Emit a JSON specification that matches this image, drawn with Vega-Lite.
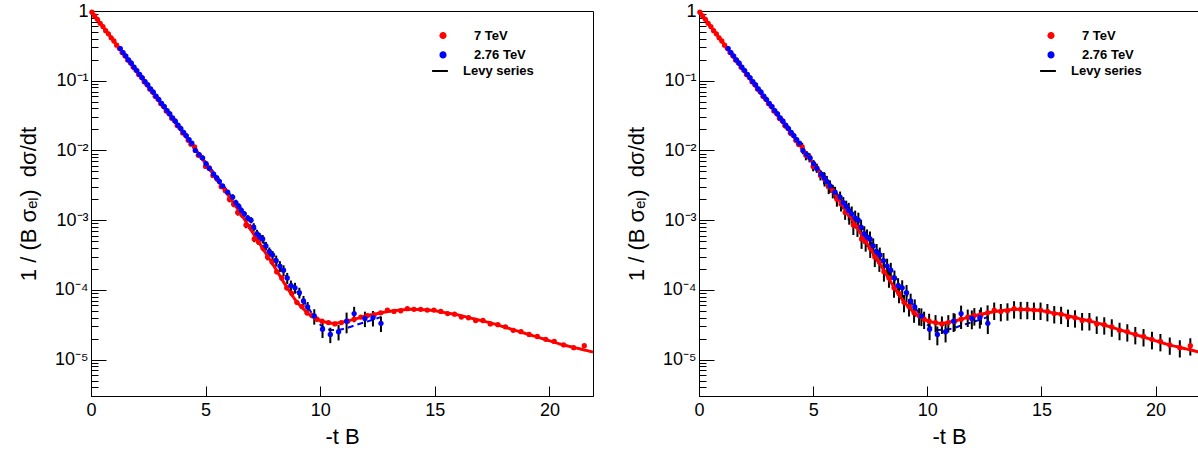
{
"$schema": "https://vega.github.io/schema/vega-lite/v6.json",
"padding": {"left": 16, "top": 1, "right": 0, "bottom": 0},
"spacing": 106,
"bounds": "flush",
"config": {
  "font": "Liberation Sans",
  "view": {"stroke": "#000000", "strokeWidth": 1},
  "axis": {"domainColor": "#000000", "tickColor": "#000000", "labelColor": "#000000", "titleColor": "#000000", "grid": false, "domainWidth": 1, "tickWidth": 1},
  "legend": {"title": null, "orient": "none", "labelFontSize": 13, "labelFontWeight": "bold", "padding": 0, "labelColor": "#000000", "labelAlign": "left", "symbolSize": 250}
},
"resolve": {"scale": {"color": "independent", "strokeDash": "independent"}},
"datasets": {
"red": [
{"t":0.04,"y":0.96,"e1":0.019,"e2":0.019},
{"t":0.16,"y":0.85,"e1":0.017,"e2":0.017},
{"t":0.28,"y":0.76,"e1":0.015,"e2":0.015},
{"t":0.40,"y":0.665,"e1":0.013,"e2":0.013},
{"t":0.52,"y":0.597,"e1":0.012,"e2":0.012},
{"t":0.64,"y":0.522,"e1":0.010,"e2":0.010},
{"t":0.76,"y":0.47,"e1":0.009,"e2":0.009},
{"t":0.88,"y":0.412,"e1":0.008,"e2":0.008},
{"t":1.00,"y":0.371,"e1":0.007,"e2":0.007},
{"t":1.12,"y":0.323,"e1":0.006,"e2":0.006},
{"t":1.24,"y":0.291,"e1":0.006,"e2":0.006},
{"t":1.36,"y":0.254,"e1":0.005,"e2":0.005},
{"t":1.48,"y":0.229,"e1":0.005,"e2":0.005},
{"t":1.60,"y":0.199,"e1":0.004,"e2":0.004},
{"t":1.72,"y":0.181,"e1":0.004,"e2":0.004},
{"t":1.84,"y":0.157,"e1":0.003,"e2":0.003},
{"t":1.96,"y":0.142,"e1":0.003,"e2":0.003},
{"t":2.08,"y":0.123,"e1":0.0025,"e2":0.006},
{"t":2.20,"y":0.112,"e1":0.0022,"e2":0.0056},
{"t":2.32,"y":0.0968,"e1":0.0019,"e2":0.0048},
{"t":2.44,"y":0.0885,"e1":0.0018,"e2":0.0044},
{"t":2.56,"y":0.0760,"e1":0.0015,"e2":0.0038},
{"t":2.68,"y":0.0695,"e1":0.0014,"e2":0.0035},
{"t":2.80,"y":0.0597,"e1":0.0012,"e2":0.0030},
{"t":2.92,"y":0.0548,"e1":0.0011,"e2":0.0027},
{"t":3.04,"y":0.0470,"e1":0.0009,"e2":0.0024},
{"t":3.16,"y":0.0431,"e1":0.0009,"e2":0.0022},
{"t":3.28,"y":0.0368,"e1":0.0007,"e2":0.0018},
{"t":3.40,"y":0.0339,"e1":0.0007,"e2":0.0017},
{"t":3.52,"y":0.0290,"e1":0.0006,"e2":0.0026},
{"t":3.64,"y":0.0268,"e1":0.0005,"e2":0.0024},
{"t":3.76,"y":0.0227,"e1":0.0005,"e2":0.0020},
{"t":3.88,"y":0.0211,"e1":0.0004,"e2":0.0019},
{"t":4.00,"y":0.0178,"e1":0.0004,"e2":0.0016},
{"t":4.12,"y":0.0166,"e1":0.0003,"e2":0.0015},
{"t":4.24,"y":0.0140,"e1":0.0003,"e2":0.0013},
{"t":4.36,"y":0.0123,"e1":0.0002,"e2":0.0011},
{"t":4.52,"y":0.0112,"e1":0.0002,"e2":0.0017},
{"t":4.68,"y":0.00851,"e1":0.00017,"e2":0.0013},
{"t":4.84,"y":0.00794,"e1":0.00016,"e2":0.0012},
{"t":5.00,"y":0.00589,"e1":0.00012,"e2":0.00088},
{"t":5.16,"y":0.00562,"e1":0.00011,"e2":0.00084},
{"t":5.32,"y":0.00437,"e1":0.00009,"e2":0.00066},
{"t":5.50,"y":0.00389,"e1":0.00008,"e2":0.00086},
{"t":5.68,"y":0.00302,"e1":0.00006,"e2":0.00066},
{"t":5.86,"y":0.00263,"e1":0.00005,"e2":0.00058},
{"t":6.04,"y":0.00200,"e1":0.0002,"e2":0.00044},
{"t":6.22,"y":0.00170,"e1":0.00017,"e2":0.00037},
{"t":6.40,"y":0.00129,"e1":0.00013,"e2":0.00028},
{"t":6.58,"y":0.00120,"e1":0.00012,"e2":0.00034},
{"t":6.76,"y":0.000851,"e1":0.000085,"e2":0.00024},
{"t":6.94,"y":0.000794,"e1":0.000079,"e2":0.00022},
{"t":7.12,"y":0.000537,"e1":0.000054,"e2":0.00015},
{"t":7.30,"y":0.000490,"e1":0.000049,"e2":0.000137},
{"t":7.50,"y":0.000398,"e1":0.00004,"e2":0.000111},
{"t":7.70,"y":0.000295,"e1":0.00003,"e2":0.000083},
{"t":7.90,"y":0.000251,"e1":0.000025,"e2":0.00007},
{"t":8.10,"y":0.000182,"e1":0.000015,"e2":0.000051},
{"t":8.32,"y":0.000148,"e1":0.000012,"e2":0.000041},
{"t":8.54,"y":0.000107,"e1":8.6e-6,"e2":0.00003},
{"t":8.76,"y":8.91e-5,"e1":7.1e-6,"e2":2.5e-5},
{"t":8.98,"y":6.61e-5,"e1":5.3e-6,"e2":1.85e-5},
{"t":9.20,"y":5.75e-5,"e1":4.6e-6,"e2":1.61e-5},
{"t":9.42,"y":4.68e-5,"e1":3.7e-6,"e2":1.31e-5},
{"t":9.64,"y":4.27e-5,"e1":3.4e-6,"e2":1.2e-5},
{"t":9.86,"y":3.80e-5,"e1":3.0e-6,"e2":1.06e-5},
{"t":10.08,"y":3.55e-5,"e1":1.8e-6,"e2":9.9e-6},
{"t":10.36,"y":3.39e-5,"e1":1.7e-6,"e2":9.5e-6},
{"t":10.64,"y":3.24e-5,"e1":1.6e-6,"e2":9.1e-6},
{"t":10.92,"y":3.39e-5,"e1":1.7e-6,"e2":9.5e-6},
{"t":11.20,"y":3.55e-5,"e1":1.8e-6,"e2":9.9e-6},
{"t":11.48,"y":3.80e-5,"e1":1.9e-6,"e2":1.06e-5},
{"t":11.77,"y":4.07e-5,"e1":2.0e-6,"e2":1.14e-5},
{"t":12.06,"y":4.27e-5,"e1":2.1e-6,"e2":1.2e-5},
{"t":12.35,"y":4.37e-5,"e1":2.2e-6,"e2":1.22e-5},
{"t":12.64,"y":4.68e-5,"e1":2.3e-6,"e2":1.31e-5},
{"t":12.93,"y":5.13e-5,"e1":2.6e-6,"e2":1.44e-5},
{"t":13.22,"y":4.90e-5,"e1":2.5e-6,"e2":1.37e-5},
{"t":13.51,"y":5.01e-5,"e1":2.5e-6,"e2":1.4e-5},
{"t":13.80,"y":5.37e-5,"e1":2.7e-6,"e2":1.5e-5},
{"t":14.09,"y":5.25e-5,"e1":2.6e-6,"e2":1.47e-5},
{"t":14.38,"y":5.25e-5,"e1":2.6e-6,"e2":1.47e-5},
{"t":14.67,"y":5.13e-5,"e1":2.6e-6,"e2":1.44e-5},
{"t":14.96,"y":5.13e-5,"e1":2.6e-6,"e2":1.44e-5},
{"t":15.26,"y":4.90e-5,"e1":2.5e-6,"e2":1.37e-5},
{"t":15.56,"y":4.57e-5,"e1":2.3e-6,"e2":1.28e-5},
{"t":15.86,"y":4.47e-5,"e1":2.2e-6,"e2":1.25e-5},
{"t":16.16,"y":4.07e-5,"e1":2.0e-6,"e2":1.14e-5},
{"t":16.47,"y":3.98e-5,"e1":2.0e-6,"e2":1.11e-5},
{"t":16.78,"y":3.63e-5,"e1":1.8e-6,"e2":1.02e-5},
{"t":17.10,"y":3.63e-5,"e1":1.8e-6,"e2":1.02e-5},
{"t":17.42,"y":3.24e-5,"e1":1.6e-6,"e2":9.1e-6},
{"t":17.75,"y":3.16e-5,"e1":1.6e-6,"e2":8.8e-6},
{"t":18.08,"y":2.95e-5,"e1":1.5e-6,"e2":8.3e-6},
{"t":18.42,"y":2.63e-5,"e1":1.3e-6,"e2":7.4e-6},
{"t":18.76,"y":2.51e-5,"e1":1.3e-6,"e2":7.0e-6},
{"t":19.11,"y":2.29e-5,"e1":1.1e-6,"e2":6.4e-6},
{"t":19.47,"y":2.14e-5,"e1":1.1e-6,"e2":6.0e-6},
{"t":19.84,"y":1.95e-5,"e1":1.0e-6,"e2":5.5e-6},
{"t":20.21,"y":1.82e-5,"e1":9e-7,"e2":5.1e-6},
{"t":20.62,"y":1.62e-5,"e1":8e-7,"e2":4.5e-6},
{"t":21.06,"y":1.48e-5,"e1":7e-7,"e2":4.1e-6},
{"t":21.52,"y":1.58e-5,"e1":8e-7,"e2":4.4e-6}
],
"blue": [
{"t":1.28,"y":0.289,"e1":0.006,"e2":0.009},
{"t":1.40,"y":0.253,"e1":0.005,"e2":0.008},
{"t":1.52,"y":0.226,"e1":0.0045,"e2":0.007},
{"t":1.64,"y":0.199,"e1":0.004,"e2":0.006},
{"t":1.76,"y":0.178,"e1":0.0036,"e2":0.0053},
{"t":1.88,"y":0.156,"e1":0.0031,"e2":0.0047},
{"t":2.00,"y":0.140,"e1":0.0028,"e2":0.0042},
{"t":2.12,"y":0.123,"e1":0.0025,"e2":0.0037},
{"t":2.24,"y":0.110,"e1":0.0022,"e2":0.0033},
{"t":2.36,"y":0.0970,"e1":0.0019,"e2":0.0029},
{"t":2.48,"y":0.0868,"e1":0.0017,"e2":0.0026},
{"t":2.60,"y":0.0762,"e1":0.0015,"e2":0.0023},
{"t":2.72,"y":0.0683,"e1":0.0014,"e2":0.0020},
{"t":2.84,"y":0.0600,"e1":0.0012,"e2":0.0018},
{"t":2.96,"y":0.0537,"e1":0.0011,"e2":0.0016},
{"t":3.08,"y":0.0472,"e1":0.0009,"e2":0.0028},
{"t":3.20,"y":0.0423,"e1":0.0008,"e2":0.0025},
{"t":3.32,"y":0.0372,"e1":0.0007,"e2":0.0022},
{"t":3.44,"y":0.0333,"e1":0.0007,"e2":0.0020},
{"t":3.56,"y":0.0292,"e1":0.0006,"e2":0.0018},
{"t":3.68,"y":0.0262,"e1":0.0005,"e2":0.0016},
{"t":3.80,"y":0.0230,"e1":0.0005,"e2":0.0014},
{"t":3.92,"y":0.0206,"e1":0.0004,"e2":0.0012},
{"t":4.04,"y":0.0181,"e1":0.0004,"e2":0.0011},
{"t":4.16,"y":0.0162,"e1":0.0003,"e2":0.0010},
{"t":4.28,"y":0.0143,"e1":0.0003,"e2":0.0009},
{"t":4.40,"y":0.0127,"e1":0.0003,"e2":0.0008},
{"t":4.55,"y":0.0100,"e1":0.0005,"e2":0.0012},
{"t":4.72,"y":0.00871,"e1":0.00044,"e2":0.00105},
{"t":4.87,"y":0.00776,"e1":0.00039,"e2":0.00093},
{"t":5.02,"y":0.00646,"e1":0.00032,"e2":0.00078},
{"t":5.16,"y":0.00550,"e1":0.00028,"e2":0.00066},
{"t":5.35,"y":0.00457,"e1":0.00023,"e2":0.00055},
{"t":5.48,"y":0.00407,"e1":0.0002,"e2":0.00081},
{"t":5.60,"y":0.00359,"e1":0.00018,"e2":0.00072},
{"t":5.74,"y":0.00309,"e1":0.00015,"e2":0.00062},
{"t":5.96,"y":0.00251,"e1":0.00013,"e2":0.0005},
{"t":6.18,"y":0.00214,"e1":0.00021,"e2":0.00043},
{"t":6.32,"y":0.00178,"e1":0.00018,"e2":0.00036},
{"t":6.45,"y":0.00158,"e1":0.00016,"e2":0.00032},
{"t":6.56,"y":0.00138,"e1":0.00014,"e2":0.00039},
{"t":6.69,"y":0.00123,"e1":0.00012,"e2":0.00034},
{"t":6.84,"y":0.00107,"e1":0.00011,"e2":0.0003},
{"t":6.98,"y":0.00100,"e1":0.0001,"e2":0.00028},
{"t":7.10,"y":0.000794,"e1":0.00011,"e2":0.00022},
{"t":7.24,"y":0.000638,"e1":0.000089,"e2":0.00018},
{"t":7.36,"y":0.000575,"e1":0.00008,"e2":0.00016},
{"t":7.49,"y":0.000537,"e1":0.000075,"e2":0.00015},
{"t":7.63,"y":0.000427,"e1":0.00006,"e2":0.00012},
{"t":7.78,"y":0.000355,"e1":0.00005,"e2":0.0001},
{"t":7.92,"y":0.000316,"e1":0.000044,"e2":0.000088},
{"t":8.08,"y":0.000263,"e1":0.000047,"e2":0.000074},
{"t":8.24,"y":0.000219,"e1":0.000039,"e2":0.000061},
{"t":8.40,"y":0.000191,"e1":0.000034,"e2":0.000053},
{"t":8.56,"y":0.000148,"e1":0.000027,"e2":0.000041},
{"t":8.72,"y":0.000115,"e1":0.000021,"e2":0.000032},
{"t":8.90,"y":0.000107,"e1":0.000019,"e2":0.00003},
{"t":9.09,"y":9.12e-5,"e1":1.6e-5,"e2":2.6e-5},
{"t":9.27,"y":6.92e-5,"e1":1.25e-5,"e2":1.9e-5},
{"t":9.45,"y":5.69e-5,"e1":1.0e-5,"e2":1.6e-5},
{"t":9.74,"y":4.22e-5,"e1":1.05e-5,"e2":1.2e-5},
{"t":10.10,"y":2.72e-5,"e1":6.8e-6,"e2":8.2e-6},
{"t":10.44,"y":2.29e-5,"e1":5.7e-6,"e2":6.9e-6},
{"t":10.80,"y":2.51e-5,"e1":6.3e-6,"e2":7.5e-6},
{"t":11.15,"y":3.55e-5,"e1":1.17e-5,"e2":1.07e-5},
{"t":11.48,"y":4.57e-5,"e1":1.14e-5,"e2":1.37e-5},
{"t":11.95,"y":3.89e-5,"e1":9.7e-6,"e2":1.17e-5},
{"t":12.30,"y":3.98e-5,"e1":1.0e-5,"e2":1.2e-5},
{"t":12.65,"y":3.31e-5,"e1":8.3e-6,"e2":9.9e-6}
],
"levy": [
{"t":0,"y":1},{"t":0.5,"y":0.607},{"t":1,"y":0.368},{"t":1.5,"y":0.223},{"t":2,"y":0.135},{"t":2.5,"y":0.0821},
{"t":3,"y":0.0498},{"t":3.5,"y":0.0302},{"t":4,"y":0.0183},{"t":4.5,"y":0.0111},{"t":5,"y":0.00646},{"t":5.5,"y":0.0038},
{"t":6,"y":0.00224},{"t":6.5,"y":0.00129},{"t":7,"y":0.000708},{"t":7.5,"y":0.000389},{"t":8,"y":0.000214},{"t":8.5,"y":0.000115},
{"t":9,"y":6.61e-5},{"t":9.25,"y":5.4e-5},{"t":9.5,"y":4.47e-5},{"t":9.75,"y":3.98e-5},{"t":10,"y":3.63e-5},{"t":10.25,"y":3.43e-5},
{"t":10.5,"y":3.31e-5},{"t":10.75,"y":3.35e-5},{"t":11,"y":3.47e-5},{"t":11.5,"y":3.80e-5},{"t":12,"y":4.22e-5},{"t":12.5,"y":4.57e-5},
{"t":13,"y":4.90e-5},{"t":13.5,"y":5.13e-5},{"t":14,"y":5.25e-5},{"t":14.5,"y":5.19e-5},{"t":15,"y":5.01e-5},{"t":15.5,"y":4.68e-5},
{"t":16,"y":4.37e-5},{"t":16.5,"y":3.98e-5},{"t":17,"y":3.63e-5},{"t":17.5,"y":3.31e-5},{"t":18,"y":2.95e-5},{"t":18.5,"y":2.63e-5},
{"t":19,"y":2.34e-5},{"t":19.5,"y":2.09e-5},{"t":20,"y":1.86e-5},{"t":20.5,"y":1.66e-5},{"t":21,"y":1.51e-5},{"t":21.5,"y":1.38e-5},{"t":21.9,"y":1.28e-5}
],
"bfit": [
{"t":1.28,"y":0.286},{"t":2,"y":0.139},{"t":3,"y":0.0519},{"t":4,"y":0.0191},{"t":4.5,"y":0.0115},{"t":5,"y":0.00692},
{"t":5.5,"y":0.00417},{"t":6,"y":0.00251},{"t":6.5,"y":0.00148},{"t":7,"y":0.000912},{"t":7.5,"y":0.000501},{"t":8,"y":0.000275},
{"t":8.5,"y":0.000158},{"t":9,"y":9.33e-5},{"t":9.5,"y":5.37e-5},{"t":10,"y":3.16e-5},{"t":10.5,"y":2.66e-5},{"t":11,"y":2.75e-5},
{"t":11.5,"y":3.09e-5},{"t":12,"y":3.47e-5},{"t":12.65,"y":4.07e-5}
]
},
"hconcat": [
{
 "width": 502, "height": 385,
 "layer": [
  {"data": {"name": "bfit"},
   "mark": {"type": "line", "color": "#0000ff", "strokeWidth": 2, "strokeDash": [6, 4], "interpolate": "monotone"},
   "encoding": {
     "x": {"field": "t", "type": "quantitative", "title": "-t B", "scale": {"domain": [0, 21.9], "nice": false, "zero": false},
       "axis": {"values": [0, 5, 10, 15, 20], "tickSize": -10, "labelPadding": 15, "labelFlush": false, "labelFontSize": 18, "titleFontSize": 22, "titleFontWeight": "normal", "titlePadding": 7}},
     "y": {"field": "y", "type": "quantitative", "title": "1 / (B σₑₗ) \u00a0dσ/dt", "scale": {"type": "log", "domain": [3e-6, 1], "nice": false},
       "axis": {"values": [3e-6,4e-6,5e-6,6e-6,7e-6,8e-6,9e-6,1e-5,2e-5,3e-5,4e-5,5e-5,6e-5,7e-5,8e-5,9e-5,1e-4,2e-4,3e-4,4e-4,5e-4,6e-4,7e-4,8e-4,9e-4,0.001,0.002,0.003,0.004,0.005,0.006,0.007,0.008,0.009,0.01,0.02,0.03,0.04,0.05,0.06,0.07,0.08,0.09,0.1,0.2,0.3,0.4,0.5,0.6,0.7,0.8,0.9,1],
         "tickSize": {"condition": {"test": "abs(log(datum.value)/LN10 - round(log(datum.value)/LN10)) < 0.01", "value": -15}, "value": -7},
         "labelPadding": 18, "labelOverlap": false, "labelFontSize": 18, "titleFontSize": 22, "titleFontWeight": "normal", "titlePadding": 14,
         "labelExpr": "abs(log(datum.value)/LN10 - round(log(datum.value)/LN10)) > 0.01 ? '' : (round(log(datum.value)/LN10) == 0 ? '1' : '10' + ['', '⁻¹', '⁻²', '⁻³', '⁻⁴', '⁻⁵', '⁻⁶'][-round(log(datum.value)/LN10)])"}}
   }},
  {"data": {"name": "red"},
   "mark": {"type": "errorbar", "ticks": false, "thickness": 2, "color": "#000000"},
   "encoding": {"x": {"field": "t", "type": "quantitative", "title": "-t B"}, "y": {"field": "y", "type": "quantitative", "title": "1 / (B σₑₗ) \u00a0dσ/dt"}, "yError": {"field": "e1"}}},
  {"data": {"name": "blue"},
   "mark": {"type": "errorbar", "ticks": false, "thickness": 2, "color": "#000000"},
   "encoding": {"x": {"field": "t", "type": "quantitative", "title": "-t B"}, "y": {"field": "y", "type": "quantitative", "title": "1 / (B σₑₗ) \u00a0dσ/dt"}, "yError": {"field": "e1"}}},
  {"data": {"name": "levy"},
   "mark": {"type": "line", "color": "#ff0000", "strokeWidth": 3, "interpolate": "monotone"},
   "encoding": {"x": {"field": "t", "type": "quantitative", "title": "-t B"}, "y": {"field": "y", "type": "quantitative", "title": "1 / (B σₑₗ) \u00a0dσ/dt"},
     "strokeDash": {"datum": "Levy series", "type": "nominal", "scale": {"domain": ["Levy series"], "range": [[1, 0]]},
       "legend": {"legendX": 340, "legendY": 51, "labelOffset": 14, "symbolType": "stroke", "symbolStrokeColor": "#000000", "symbolStrokeWidth": 2}}}},
  {"data": {"name": "red"},
   "mark": {"type": "circle", "size": 28, "opacity": 1},
   "encoding": {"x": {"field": "t", "type": "quantitative", "title": "-t B"}, "y": {"field": "y", "type": "quantitative", "title": "1 / (B σₑₗ) \u00a0dσ/dt"},
     "color": {"datum": "7 TeV", "type": "nominal", "scale": {"domain": ["7 TeV", "2.76 TeV"], "range": ["#ff0000", "#0000ff"]},
       "legend": {"legendX": 344, "legendY": 16.5, "labelOffset": 23, "symbolType": "M0.45,0A0.45,0.45,0,1,1,-0.45,0A0.45,0.45,0,1,1,0.45,0Z", "symbolStrokeWidth": 0, "symbolOpacity": 1, "rowPadding": 4.4}}}},
  {"data": {"name": "blue"},
   "mark": {"type": "circle", "size": 28, "opacity": 1},
   "encoding": {"x": {"field": "t", "type": "quantitative", "title": "-t B"}, "y": {"field": "y", "type": "quantitative", "title": "1 / (B σₑₗ) \u00a0dσ/dt"},
     "color": {"datum": "2.76 TeV", "type": "nominal", "scale": {"domain": ["7 TeV", "2.76 TeV"], "range": ["#ff0000", "#0000ff"]},
       "legend": {"legendX": 344, "legendY": 16.5, "labelOffset": 23, "symbolType": "M0.45,0A0.45,0.45,0,1,1,-0.45,0A0.45,0.45,0,1,1,0.45,0Z", "symbolStrokeWidth": 0, "symbolOpacity": 1, "rowPadding": 4.4}}}}
 ]
},
{
 "width": 500, "height": 385,
 "layer": [
  {"data": {"name": "bfit"},
   "mark": {"type": "line", "color": "#0000ff", "strokeWidth": 2, "strokeDash": [6, 4], "interpolate": "monotone"},
   "encoding": {
     "x": {"field": "t", "type": "quantitative", "title": "-t B", "scale": {"domain": [0, 21.9], "nice": false, "zero": false},
       "axis": {"values": [0, 5, 10, 15, 20], "tickSize": -10, "labelPadding": 15, "labelFlush": false, "labelFontSize": 18, "titleFontSize": 22, "titleFontWeight": "normal", "titlePadding": 7}},
     "y": {"field": "y", "type": "quantitative", "title": "1 / (B σₑₗ) \u00a0dσ/dt", "scale": {"type": "log", "domain": [3e-6, 1], "nice": false},
       "axis": {"values": [3e-6,4e-6,5e-6,6e-6,7e-6,8e-6,9e-6,1e-5,2e-5,3e-5,4e-5,5e-5,6e-5,7e-5,8e-5,9e-5,1e-4,2e-4,3e-4,4e-4,5e-4,6e-4,7e-4,8e-4,9e-4,0.001,0.002,0.003,0.004,0.005,0.006,0.007,0.008,0.009,0.01,0.02,0.03,0.04,0.05,0.06,0.07,0.08,0.09,0.1,0.2,0.3,0.4,0.5,0.6,0.7,0.8,0.9,1],
         "tickSize": {"condition": {"test": "abs(log(datum.value)/LN10 - round(log(datum.value)/LN10)) < 0.01", "value": -15}, "value": -7},
         "labelPadding": 18, "labelOverlap": false, "labelFontSize": 18, "titleFontSize": 22, "titleFontWeight": "normal", "titlePadding": 14,
         "labelExpr": "abs(log(datum.value)/LN10 - round(log(datum.value)/LN10)) > 0.01 ? '' : (round(log(datum.value)/LN10) == 0 ? '1' : '10' + ['', '⁻¹', '⁻²', '⁻³', '⁻⁴', '⁻⁵', '⁻⁶'][-round(log(datum.value)/LN10)])"}}
   }},
  {"data": {"name": "red"},
   "mark": {"type": "errorbar", "ticks": false, "thickness": 2, "color": "#000000"},
   "encoding": {"x": {"field": "t", "type": "quantitative", "title": "-t B"}, "y": {"field": "y", "type": "quantitative", "title": "1 / (B σₑₗ) \u00a0dσ/dt"}, "yError": {"field": "e2"}}},
  {"data": {"name": "blue"},
   "mark": {"type": "errorbar", "ticks": false, "thickness": 2, "color": "#000000"},
   "encoding": {"x": {"field": "t", "type": "quantitative", "title": "-t B"}, "y": {"field": "y", "type": "quantitative", "title": "1 / (B σₑₗ) \u00a0dσ/dt"}, "yError": {"field": "e2"}}},
  {"data": {"name": "levy"},
   "mark": {"type": "line", "color": "#ff0000", "strokeWidth": 3, "interpolate": "monotone"},
   "encoding": {"x": {"field": "t", "type": "quantitative", "title": "-t B"}, "y": {"field": "y", "type": "quantitative", "title": "1 / (B σₑₗ) \u00a0dσ/dt"},
     "strokeDash": {"datum": "Levy series", "type": "nominal", "scale": {"domain": ["Levy series"], "range": [[1, 0]]},
       "legend": {"legendX": 340, "legendY": 51, "labelOffset": 14, "symbolType": "stroke", "symbolStrokeColor": "#000000", "symbolStrokeWidth": 2}}}},
  {"data": {"name": "red"},
   "mark": {"type": "circle", "size": 28, "opacity": 1},
   "encoding": {"x": {"field": "t", "type": "quantitative", "title": "-t B"}, "y": {"field": "y", "type": "quantitative", "title": "1 / (B σₑₗ) \u00a0dσ/dt"},
     "color": {"datum": "7 TeV", "type": "nominal", "scale": {"domain": ["7 TeV", "2.76 TeV"], "range": ["#ff0000", "#0000ff"]},
       "legend": {"legendX": 344, "legendY": 16.5, "labelOffset": 23, "symbolType": "M0.45,0A0.45,0.45,0,1,1,-0.45,0A0.45,0.45,0,1,1,0.45,0Z", "symbolStrokeWidth": 0, "symbolOpacity": 1, "rowPadding": 4.4}}}},
  {"data": {"name": "blue"},
   "mark": {"type": "circle", "size": 28, "opacity": 1},
   "encoding": {"x": {"field": "t", "type": "quantitative", "title": "-t B"}, "y": {"field": "y", "type": "quantitative", "title": "1 / (B σₑₗ) \u00a0dσ/dt"},
     "color": {"datum": "2.76 TeV", "type": "nominal", "scale": {"domain": ["7 TeV", "2.76 TeV"], "range": ["#ff0000", "#0000ff"]},
       "legend": {"legendX": 344, "legendY": 16.5, "labelOffset": 23, "symbolType": "M0.45,0A0.45,0.45,0,1,1,-0.45,0A0.45,0.45,0,1,1,0.45,0Z", "symbolStrokeWidth": 0, "symbolOpacity": 1, "rowPadding": 4.4}}}}
 ]
}
]
}
